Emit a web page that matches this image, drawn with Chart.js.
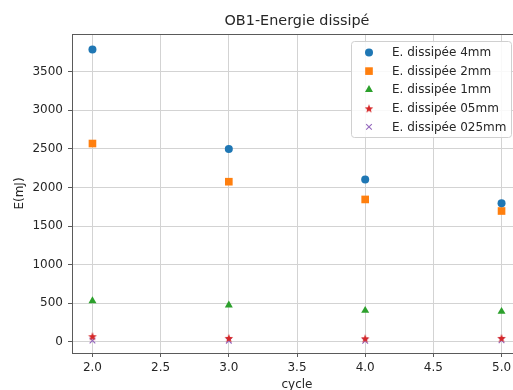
<!DOCTYPE html>
<html>
<head>
<meta charset="utf-8">
<script src="https://cdn.jsdelivr.net/npm/chart.js@4/dist/chart.umd.min.js"></script>
<style>
  html, body { margin: 0; padding: 0; background: #fff; overflow: hidden; }
  #wrap { position: relative; width: 540px; height: 400px; }
</style>
</head>
<body>
<div id="wrap"><canvas id="chart" width="540" height="400"></canvas></div>
<script>
// values
const cycles = [2, 3, 4, 5];
const e4mm = [3790, 2500, 2105, 1795];
const e2mm = [2570, 2075, 1845, 1695];
const e1mm = [530, 475, 405, 392];
const e05mm = [72, 50, 45, 50];
const e025mm = [15, 14, 12, 20];
const seriesLabels = ['E. dissipée 4mm', 'E. dissipée 2mm', 'E. dissipée 1mm', 'E. dissipée 05mm', 'E. dissipée 025mm'];
const chartTitle = 'OB1-Energie dissipé';
const xTicks = [2.0, 2.5, 3.0, 3.5, 4.0, 4.5, 5.0];
const yTicks = [0, 500, 1000, 1500, 2000, 2500, 3000, 3500];

const FONT = 'DejaVu Sans';
const TEXT = '#262626';
const SPINE = '#5a5a5a';

function makeStar(color, size) {
    const c = document.createElement('canvas');
    c.width = size;
    c.height = size;
    const g = c.getContext('2d');
    const R = size / 2 - 0.5;
    const r = R * 0.42;
    g.fillStyle = color;
    g.beginPath();
    for (let i = 0; i < 10; i++) {
        const rad = i % 2 ? r : R;
        const a = -Math.PI / 2 + i * Math.PI / 5;
        const px = size / 2 + rad * Math.cos(a);
        const py = size / 2 + 0.6 + rad * Math.sin(a);
        if (i === 0) g.moveTo(px, py); else g.lineTo(px, py);
    }
    g.closePath();
    g.fill();
    return c;
}

const toPoints = (vals) => vals.map((v, i) => ({ x: cycles[i], y: v }));

const datasets = [
    { data: toPoints(e4mm), pointStyle: 'circle', pointRadius: 4, backgroundColor: '#1f77b4', borderColor: '#1f77b4', borderWidth: 0 },
    { data: toPoints(e2mm), pointStyle: 'rect', pointRadius: 5.4, backgroundColor: '#ff7f0e', borderColor: '#ff7f0e', borderWidth: 0 },
    { data: toPoints(e1mm), pointStyle: 'triangle', pointRadius: 4.6, backgroundColor: '#2ca02c', borderColor: '#2ca02c', borderWidth: 0 },
    { data: toPoints(e05mm), pointStyle: makeStar('#d62728', 10), pointRadius: 5, backgroundColor: '#d62728', borderColor: '#d62728', borderWidth: 0 },
    { data: toPoints(e025mm), pointStyle: 'crossRot', pointRadius: 4, backgroundColor: '#9467bd', borderColor: '#9467bd', borderWidth: 1.1 }
].map((d, i) => ({ ...d, label: seriesLabels[i], showLine: false, pointHoverRadius: d.pointRadius }));

// matplotlib-like frame, title and legend box
const frameAndLegend = {
    id: 'frameAndLegend',
    afterDraw(chart) {
        const { ctx, chartArea } = chart;
        ctx.save();
        ctx.strokeStyle = SPINE;
        ctx.lineWidth = 1;
        ctx.beginPath();
        ctx.moveTo(chartArea.left, chartArea.top + 0.5);
        ctx.lineTo(chartArea.right, chartArea.top + 0.5);
        ctx.stroke();

        ctx.fillStyle = TEXT;
        ctx.font = '14.4px "' + FONT + '"';
        ctx.textAlign = 'center';
        ctx.textBaseline = 'middle';
        ctx.fillText(chartTitle, (chartArea.left + chartArea.right) / 2, 21);

        const bx = 351, by = 41, bw = 160, bh = 96;
        ctx.fillStyle = 'rgba(255,255,255,0.85)';
        ctx.strokeStyle = '#d0d0d0';
        ctx.lineWidth = 1;
        ctx.beginPath();
        ctx.roundRect(bx + 0.5, by + 0.5, bw, bh, 3);
        ctx.fill();
        ctx.stroke();

        ctx.font = '12px "' + FONT + '"';
        ctx.textBaseline = 'middle';
        ctx.textAlign = 'left';
        chart.data.datasets.forEach((ds, i) => {
            const y = 52.5 + i * 18.6;
            ctx.fillStyle = ds.backgroundColor;
            ctx.strokeStyle = ds.borderColor;
            ctx.lineWidth = ds.borderWidth;
            Chart.helpers.drawPoint(ctx, {
                pointStyle: ds.pointStyle,
                radius: ds.pointRadius,
                borderWidth: ds.borderWidth,
                rotation: 0
            }, 369, y);
            ctx.fillStyle = TEXT;
            ctx.fillText(ds.label, 392, y + 0.5);
        });
        ctx.restore();
    }
};

new Chart(document.getElementById('chart'), {
    type: 'scatter',
    data: { datasets },
    plugins: [frameAndLegend],
    options: {
        responsive: false,
        animation: false,
        layout: { padding: { left: 0, right: 18, top: 34, bottom: 0 } },
        plugins: {
            legend: { display: false },
            tooltip: { enabled: false },
            title: { display: false }
        },
        scales: {
            x: {
                type: 'linear',
                min: 1.85,
                max: 5.15,
                afterBuildTicks: (scale) => { scale.ticks = xTicks.map((v) => ({ value: v })); },
                afterFit: (scale) => { scale.height = 47; },
                ticks: {
                    color: TEXT,
                    font: { family: FONT, size: 12 },
                    padding: 4,
                    maxRotation: 0,
                    callback: (v) => Number(v).toFixed(1)
                },
                grid: { color: '#d3d3d3', lineWidth: 1, tickLength: 4, tickColor: SPINE },
                border: { color: SPINE, width: 1 },
                title: {
                    display: true,
                    text: 'cycle',
                    color: TEXT,
                    font: { family: FONT, size: 12 },
                    padding: { top: 0, bottom: 7.8 }
                }
            },
            y: {
                type: 'linear',
                min: -146,
                max: 3990,
                afterBuildTicks: (scale) => { scale.ticks = yTicks.map((v) => ({ value: v })); },
                afterFit: (scale) => { scale.width = 72; },
                ticks: {
                    color: TEXT,
                    font: { family: FONT, size: 12 },
                    padding: 5,
                    callback: (v) => String(v)
                },
                grid: { color: '#d3d3d3', lineWidth: 1, tickLength: 4, tickColor: SPINE },
                border: { color: SPINE, width: 1 },
                title: {
                    display: true,
                    text: 'E(mJ)',
                    color: TEXT,
                    font: { family: FONT, size: 12 },
                    padding: { top: 12.8, bottom: 0 }
                }
            }
        }
    }
});
</script>
</body>
</html>
